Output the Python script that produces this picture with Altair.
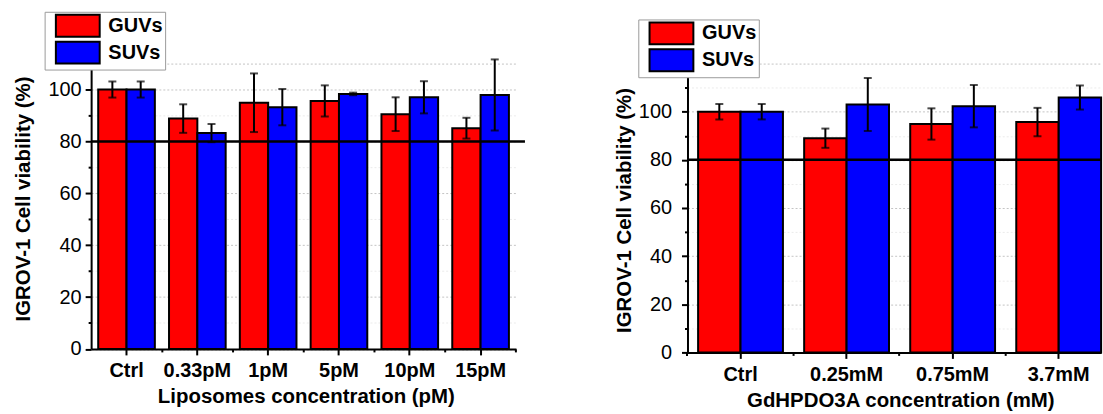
import altair as alt
import pandas as pd

FONT = "Liberation Sans"

# ---- data (left panel) ----
left_categories = ["Ctrl", "0.33pM", "1pM", "5pM", "10pM", "15pM"]
left_guvs = [100, 88.8, 94.9, 95.6, 90.5, 85.1]
left_guvs_err = [3.1, 5.5, 11.3, 6.0, 6.5, 4.0]
left_suvs = [100, 83.2, 93.2, 98.3, 97.0, 97.9]
left_suvs_err = [3.1, 3.5, 7.0, 0.5, 6.2, 13.7]

# ---- data (right panel) ----
right_categories = ["Ctrl", "0.25mM", "0.75mM", "3.7mM"]
right_guvs = [100, 89.0, 94.9, 95.7]
right_guvs_err = [3.2, 4.0, 6.5, 5.9]
right_suvs = [100, 103.0, 102.3, 105.9]
right_suvs_err = [3.2, 11.0, 8.8, 5.0]

series_names = ["GUVs", "SUVs"]
series_colors = ["#ff0000", "#0000ff"]
threshold = [80]


def make_table(cats, g, ge, s, se):
    rows = []
    for i, c in enumerate(cats):
        rows.append({"cat": c, "series": "GUVs", "v": g[i], "lo": g[i] - ge[i], "hi": g[i] + ge[i]})
        rows.append({"cat": c, "series": "SUVs", "v": s[i], "lo": s[i] - se[i], "hi": s[i] + se[i]})
    return pd.DataFrame(rows)


def panel(cats, g, ge, s, se, ymax, xtitle, width, height, pad_outer, align,
          legend_x, legend_y, y_label_pad, y_title_pad, y_title_y, x_title_x, rule_extra,
          minor_band):
    df = make_table(cats, g, ge, s, se)
    xscale = alt.Scale(domain=cats, paddingInner=0.2, paddingOuter=pad_outer, align=align)
    yscale = alt.Scale(domain=[0, ymax], nice=False, zero=True)
    top = ymax
    yaxis = alt.Axis(
        values=list(range(0, ymax + 1, 10)),
        labelExpr=f"(datum.value % 20 === 0 && datum.value !== {top}) ? datum.label : ''",
        tickSize={"condition": {"test": "datum.value % 20 === 0", "value": 6}, "value": 3},
        gridColor={"condition": {"test": f"datum.value % 20 === 0 || datum.value === {top}", "value": "#c4c4c4"}, "value": "#ebebeb"},
        gridDash=[2, 2], gridWidth=1,
        domainColor="black", domainWidth=2, tickColor="black", tickWidth=2,
        labelFont=FONT, labelFontSize=20, labelColor="black", labelPadding=y_label_pad,
        title="IGROV-1 Cell viability (%)", titleFont=FONT, titleFontSize=20.5,
        titleFontWeight="bold", titleColor="black", titlePadding=y_title_pad,
        titleY=y_title_y,
    )
    major_x = alt.Axis(
        title=xtitle, labelAngle=0, labelFont=FONT, labelFontSize=20, labelFontWeight="bold",
        labelColor="black", labelPadding=6, tickSize=6, tickWidth=2, tickColor="black",
        domainColor="black", domainWidth=2, grid=False,
        titleFont=FONT, titleFontSize=20.5, titleFontWeight="bold", titleColor="black",
        titlePadding=6, titleX=x_title_x, orient="bottom",
    )
    minor_x = alt.Axis(
        title=None, labels=False, domain=False, tickSize=3, tickWidth=2, tickColor="black",
        bandPosition=minor_band, grid=False, orient="bottom",
    )
    color = alt.Color(
        "series:N",
        scale=alt.Scale(domain=series_names, range=series_colors),
        legend=alt.Legend(
            title=None, orient="none", legendX=legend_x, legendY=legend_y,
            symbolType="M-2,-1H2V1H-2Z", symbolSize=484, symbolStrokeColor="black",
            symbolStrokeWidth=2, symbolOpacity=1, symbolOffset=19.3,
            labelFont=FONT, labelFontSize=20, labelFontWeight="bold", labelColor="black",
            labelOffset=18.7, labelExpr="datum.label + '\u00a0\u00a0\u00a0\u00a0'",
            fillColor="white", strokeColor="#9a9a9a", padding=2, rowPadding=-3,
        ),
    )
    base = alt.Chart(df)
    offset = alt.XOffset("series:N", sort=series_names)
    bars = base.mark_bar(stroke="black", strokeWidth=2).encode(
        x=alt.X("cat:N", sort=cats, scale=xscale, axis=major_x),
        xOffset=offset,
        y=alt.Y("v:Q", scale=yscale, axis=yaxis),
        color=color,
    )
    err = base.mark_rule(color="black", strokeWidth=2).encode(
        x=alt.X("cat:N", sort=cats, scale=xscale, axis=minor_x),
        xOffset=offset,
        y=alt.Y("lo:Q", scale=yscale, axis=yaxis),
        y2="hi:Q",
    )
    cap_lo = base.mark_tick(color="black", thickness=2, size=8).encode(
        x=alt.X("cat:N", sort=cats, scale=xscale, axis=None),
        xOffset=offset,
        y=alt.Y("lo:Q", scale=yscale, axis=yaxis),
    )
    cap_hi = base.mark_tick(color="black", thickness=2, size=8).encode(
        x=alt.X("cat:N", sort=cats, scale=xscale, axis=None),
        xOffset=offset,
        y=alt.Y("hi:Q", scale=yscale, axis=yaxis),
    )
    line80 = alt.Chart(pd.DataFrame({"t": threshold})).mark_rule(color="black", strokeWidth=2.5).encode(
        y=alt.Y("t:Q", scale=yscale, axis=yaxis),
        x=alt.value(0), x2=alt.value(width + rule_extra),
    )
    return alt.layer(bars, err, cap_lo, cap_hi, line80).resolve_axis(x="independent").properties(
        width=width, height=height
    )


left = panel(left_categories, left_guvs, left_guvs_err, left_suvs, left_suvs_err, 110,
             "Liposomes concentration (pM)", 426.6, 286.5, 0.1, 0.5,
             -46.7, -52, 4, 15, 135.5, 215.6, 9, 1.125)
right = panel(right_categories, right_guvs, right_guvs_err, right_suvs, right_suvs_err, 120,
              "GdHPDO3A concentration (mM)", 415.3, 290, 0.05, 1.0,
              -49.4, -44.3, 10, 4, 147, 213.7, 0, -0.125)

chart = alt.hconcat(left, right, spacing=87.8).resolve_scale(
    color="independent", x="independent", y="independent", xOffset="independent"
).resolve_legend(color="independent").properties(
    padding={"left": 12.5, "top": 10, "right": 0, "bottom": 0},
    background="white",
).configure_view(stroke=None)

chart.save("out.html", embed_options={"renderer": "svg", "actions": False})
